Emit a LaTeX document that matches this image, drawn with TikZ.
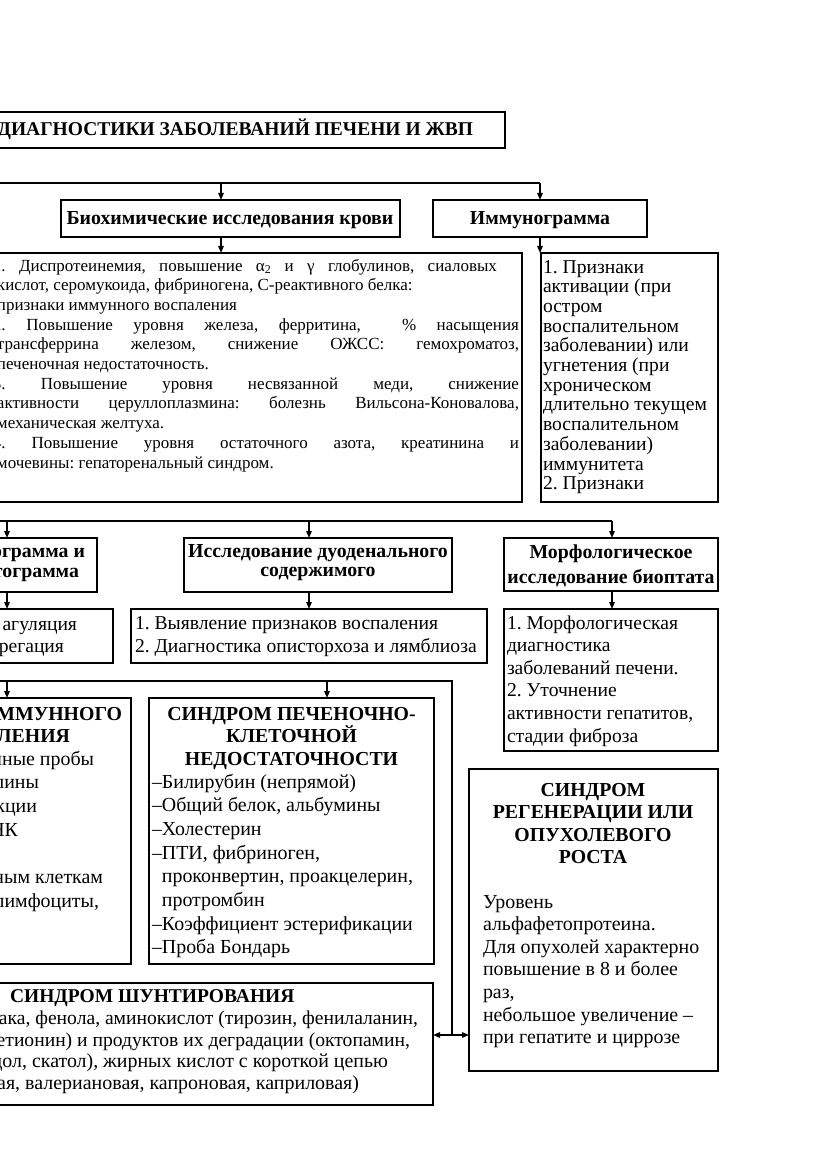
\documentclass[tikz,border=0pt]{standalone}
\usepackage{fontspec}
\setmainfont{Liberation Serif}
\usetikzlibrary{arrows.meta}
\newcommand\fsz[1]{\fontsize{#1}{#1}\selectfont}
\newcommand\bx[5]{\node[box,minimum width={(#4-#2)*1pt},minimum height={(#5-#3)*1pt}] (#1) at ({(#2+#4)/2},{(#3+#5)/2}) {};}
\newcommand\plines[6]{%
  \foreach \linetext [count=\lineno from 0] in {#6} {\node[#5] (#1-\lineno) at (#2,{#3+\lineno*#4}) {\linetext};}}
\begin{document}
\frenchspacing
\begin{tikzpicture}[x=1pt,y=-1pt,
  box/.style={draw,line width=1.4pt,inner sep=0pt,outer sep=0pt},
  ln/.style={line width=1.3pt},
  arr/.style={line width=1.3pt,-{Triangle[length=7pt,width=5.5pt]}},
  txt/.style={inner sep=0pt,outer sep=0pt},
  bw/.style={txt,anchor=base west},
  be/.style={txt,anchor=base east},
  bc/.style={txt,anchor=base},
  hb/.style={font=\fsz{19.8}\bfseries},
  rg/.style={font=\fsz{19.6}},
  rl/.style={font=\fsz{19.9}},
  sm/.style={font=\fsz{17}},
]
\fill[white] (0,0) rectangle (831,1174);
\useasboundingbox (0,0) rectangle (831,1174);
\clip (0,0) rectangle (831,1174);

% boxes
\bx{title}{-60}{112}{505}{148}
\bx{bio}{61}{200}{400}{237}
\bx{imm}{433}{200}{647}{237}
\bx{big}{-60}{253}{522}{502}
\bx{immt}{541}{253}{718}{502}
\bx{lhdr}{-60}{538}{97}{592}
\bx{duo}{184}{538}{452}{592}
\bx{morph}{504}{538}{718}{591}
\bx{lsub}{-60}{609}{113}{663}
\bx{duot}{131}{609}{487}{663}
\bx{morpht}{504}{609}{718}{751}
\bx{immune}{-60}{698}{131}{964}
\bx{hep}{149}{698}{434}{964}
\bx{regen}{469}{769}{718}{1071}
\bx{shunt}{-60}{983}{433}{1105}

% connectors
\coordinate (h1a) at (-60,183); \coordinate (h1b) at (540,183); \coordinate (h1c) at (221,183);
\draw[ln] (h1a) -- (h1b);
\draw[arr] (h1c) -- (h1c |- bio.north);
\draw[arr] (h1b) -- (h1b |- imm.north);
\draw[arr] (h1c |- bio.south) -- (h1c |- big.north);
\draw[arr] (h1b |- imm.south) -- (h1b |- immt.north);

\coordinate (h2a) at (-60,521); \coordinate (h2b) at (612,521);
\coordinate (h2c) at (7,521); \coordinate (h2d) at (309,521);
\draw[ln] (h2a) -- (h2b);
\draw[arr] (h2c) -- (h2c |- lhdr.north);
\draw[arr] (h2d) -- (h2d |- duo.north);
\draw[arr] (h2b) -- (h2b |- morph.north);
\draw[arr] (h2c |- lhdr.south) -- (h2c |- lsub.north);
\draw[arr] (h2d |- duo.south) -- (h2d |- duot.north);
\draw[arr] (h2b |- morph.south) -- (h2b |- morpht.north);

\coordinate (h3a) at (-60,681); \coordinate (h3b) at (452,681);
\coordinate (h3c) at (7,681); \coordinate (h3d) at (327,681);
\coordinate (j) at (452,1035);
\draw[ln] (h3a) -- (h3b) -- (j);
\draw[arr] (h3c) -- (h3c |- immune.north);
\draw[arr] (h3d) -- (h3d |- hep.north);
\draw[arr] (j) -- (j -| shunt.east);
\draw[arr] (j) -- (j -| regen.west);

% texts
\node[be,font=\fsz{19.5}\bfseries] (titlet) at (473,136) {ДИАГНОСТИКИ ЗАБОЛЕВАНИЙ ПЕЧЕНИ И ЖВП};
\node[bc,hb] (biot) at (230,225) {Биохимические исследования крови};
\node[bc,hb] (immt0) at (540,225) {Иммунограмма};

% big box
\begin{scope}[sm]
\node[bw] (bg0) at (-7,271) {\makebox[504pt][s]{1. Диспротеинемия, повышение α\textsubscript{2} и γ глобулинов, сиаловых}};
\node[bw] (bg1) at (-3,290.7) {кислот, серомукоида, фибриногена, С-реактивного белка:};
\node[bw] (bg2) at (-3,310.4) {признаки иммунного воспаления};
\node[bw] (bg3) at (-7,330.1) {\makebox[526pt][s]{2. Повышение уровня железа, ферритина,\ \ \% насыщения}};
\node[bw] (bg4) at (-3,349.8) {\makebox[522pt][s]{трансферрина железом, снижение ОЖСС: гемохроматоз,}};
\node[bw] (bg5) at (-3,369.5) {печеночная недостаточность.};
\node[bw] (bg6) at (-7,389.2) {\makebox[526pt][s]{3. Повышение уровня несвязанной меди, снижение}};
\node[bw] (bg7) at (-3,408.9) {\makebox[522pt][s]{активности церуллоплазмина: болезнь Вильсона-Коновалова,}};
\node[bw] (bg8) at (-3,428.6) {механическая желтуха.};
\node[bw] (bg9) at (-7,448.3) {\makebox[526pt][s]{4. Повышение уровня остаточного азота, креатинина и}};
\node[bw] (bg10) at (-3,468) {мочевины: гепаторенальный синдром.};
\end{scope}

\plines{im}{543}{273}{19.7}{bw,rg}{1. Признаки,активации (при,остром,воспалительном,заболевании) или,угнетения (при,хроническом,длительно текущем,воспалительном,заболевании),иммунитета,2. Признаки}

% row 2 headers
\node[be,hb] (lh0) at (85,557) {ограмма и};
\node[be,hb] (lh1) at (79,577) {тограмма};
\node[bc,hb] (du0) at (318,557) {Исследование дуоденального};
\node[bc,hb] (du1) at (318,576) {содержимого};
\node[bc,hb] (mo0) at (611,558) {Морфологическое};
\node[bc,hb] (mo1) at (611,583) {исследование биоптата};

\node[be,rg] (ls0) at (77,630) {агуляция};
\node[be,rg] (ls1) at (64,652) {регация};
\node[bw,rg] (dt0) at (135,629) {1. Выявление признаков воспаления};
\node[bw,rg] (dt1) at (135,652) {2. Диагностика описторхоза и лямблиоза};
\plines{mt}{507}{629}{22.6}{bw,rg}{1. Морфологическая,диагностика,заболеваний печени.,2. Уточнение,{активности гепатитов,},стадии фиброза}

% immune inflammation
\node[be,hb] (iu0) at (122,720) {ИММУННОГО};
\node[be,hb] (iu1) at (70,742) {ВОСПАЛЕНИЯ};
\node[be,rl] (iu2) at (94,765) {нные пробы};
\node[be,rl] (iu3) at (39,788.7) {лины};
\node[be,rl] (iu4) at (37,812.4) {кции};
\node[be,rl] (iu5) at (18,836.1) {НК};
\node[be,rl] (iu6) at (103,883.5) {ным клеткам};
\node[be,rl] (iu7) at (99,907.2) {лимфоциты,};

% hepatocellular
\plines{hp}{291.5}{720}{22.5}{bc,hb}{СИНДРОМ ПЕЧЕНОЧНО-,КЛЕТОЧНОЙ,НЕДОСТАТОЧНОСТИ}
\plines{hq}{152}{788}{23.7}{bw,rl}{–Билирубин (непрямой),{–Общий белок, альбумины},–Холестерин,{–ПТИ, фибриноген,},{\phantom{–}проконвертин, проакцелерин,},\phantom{–}протромбин,–Коэффициент эстерификации,–Проба Бондарь}

% regeneration
\plines{rg}{593}{796}{22.5}{bc,hb}{СИНДРОМ,РЕГЕНЕРАЦИИ ИЛИ,ОПУХОЛЕВОГО,РОСТА}
\plines{rb}{483}{908}{22.6}{bw,rl}{Уровень,альфафетопротеина.,Для опухолей характерно,повышение в 8 и более,{раз,},небольшое увеличение –,при гепатите и циррозе}

% shunting
\node[bw,font=\fsz{19.5}\bfseries] (sh0) at (10,1002) {СИНДРОМ ШУНТИРОВАНИЯ};
\node[be,rg] (sh1) at (418,1024) {ака, фенола, аминокислот (тирозин, фенилаланин,};
\node[be,rg] (sh2) at (410,1046) {етионин) и продуктов их деградации (октопамин,};
\node[be,font=\fsz{19.9}] (sh3) at (388,1067) {дол, скатол), жирных кислот с короткой цепью};
\node[be,font=\fsz{19.95}] (sh4) at (359,1089) {ая, валериановая, капроновая, каприловая)};
\end{tikzpicture}
\end{document}
